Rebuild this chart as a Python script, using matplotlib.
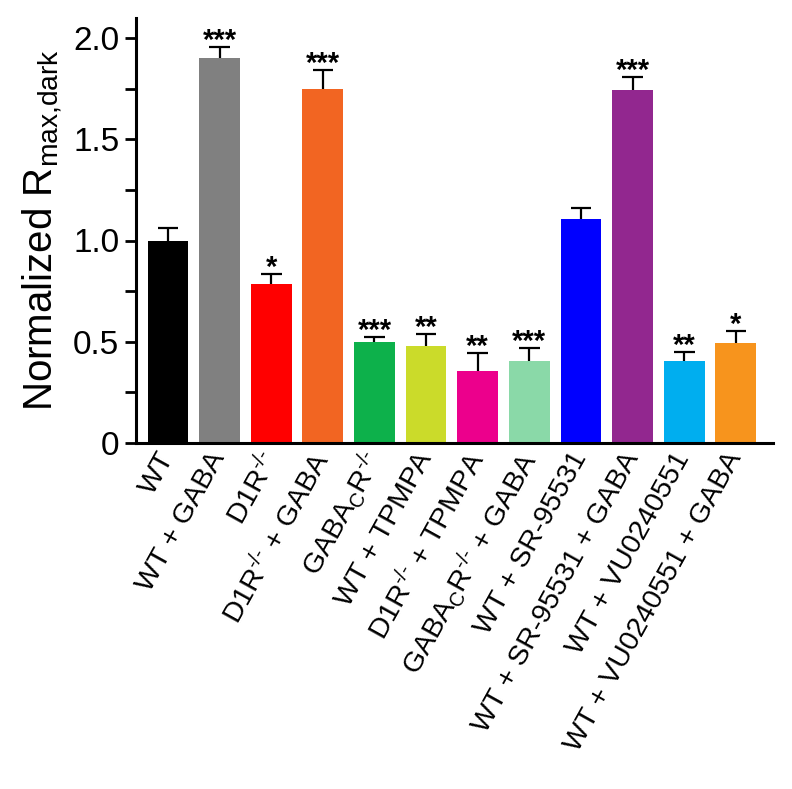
import matplotlib
matplotlib.use("Agg")
import matplotlib.pyplot as plt
import numpy as np

plt.rcParams['font.family'] = ['Liberation Sans', 'DejaVu Sans']
plt.rcParams['mathtext.fontset'] = 'custom'
plt.rcParams['mathtext.rm'] = 'Liberation Sans'
plt.rcParams['mathtext.it'] = 'Liberation Sans'
plt.rcParams['mathtext.bf'] = 'Liberation Sans:bold'

categories = [
    'WT',
    'WT + GABA',
    r'D1R$^{\text{-/-}}$',
    r'D1R$^{\text{-/-}}$ + GABA',
    r'GABA$_{\text{C}}$R$^{\text{-/-}}$',
    'WT + TPMPA',
    r'D1R$^{\text{-/-}}$ + TPMPA',
    r'GABA$_{\text{C}}$R$^{\text{-/-}}$ + GABA',
    'WT + SR-95531',
    'WT + SR-95531 + GABA',
    'WT + VU0240551',
    'WT + VU0240551 + GABA',
]
values = [1.00, 1.903, 0.785, 1.747, 0.497, 0.481, 0.357, 0.405, 1.105, 1.742, 0.405, 0.495]
errors = [0.063, 0.051, 0.048, 0.097, 0.025, 0.057, 0.086, 0.064, 0.057, 0.064, 0.043, 0.060]
stars = ['', '***', '*', '***', '***', '**', '**', '***', '', '***', '**', '*']
colors = ['#000000', '#808080', '#ff0000', '#f26522', '#0db14b', '#cbdb2a',
          '#ec008c', '#8ad9a8', '#0000ff', '#92278f', '#00aeef', '#f7941d']
ytick_vals = [0, 0.5, 1.0, 1.5, 2.0]
ytick_labels = ['0', '0.5', '1.0', '1.5', '2.0']

fig = plt.figure(figsize=(7.92, 7.89), dpi=100)
ax = fig.add_axes([136/792, 1 - 443/789, (773 - 136)/792, (443 - 17.75)/789])

x = np.arange(len(categories))
vals = np.array(values)
tops = vals + np.array(errors)
ax.bar(x, vals, width=0.79, color=colors, edgecolor='none', zorder=2)
ax.vlines(x, vals, tops, color='black', linewidth=1.6, zorder=3)
ax.hlines(tops, x - 0.2, x + 0.2, color='black', linewidth=1.6, zorder=3)

for xi, t, s in zip(x, tops, stars):
    if s:
        ax.annotate(s, xy=(xi, t), xytext=(0, -1.5), textcoords='offset points',
                    ha='center', va='baseline', fontsize=21, fontweight='bold',
                    color='black')

ax.set_xlim(-0.62, 11.72)
ax.set_ylim(0, 2.1)
ax.set_yticks(ytick_vals)
ax.set_yticklabels(ytick_labels)
ax.set_yticks([0.25, 0.75, 1.25, 1.75], minor=True)
ax.tick_params(axis='y', which='both', direction='out', length=8, width=2, labelsize=24, pad=4)
ax.tick_params(axis='x', length=0, pad=8)
ax.set_xticks(x)
ax.set_xticklabels(categories, rotation=61, ha='right', va='center',
                   rotation_mode='anchor', fontsize=20.5)

for side in ['top', 'right']:
    ax.spines[side].set_visible(False)
for side in ['left', 'bottom']:
    ax.spines[side].set_linewidth(2.2)

ax.set_ylabel(r'Normalized R$_{\text{max,dark}}$', fontsize=29, labelpad=6)

fig.savefig('out.png', dpi=100)
